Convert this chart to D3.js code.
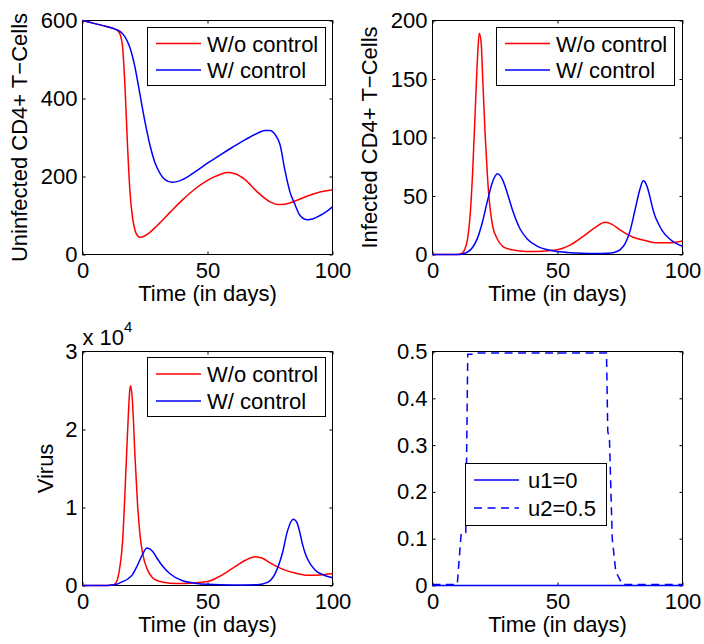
<!DOCTYPE html>
<html>
<head>
<meta charset="utf-8">
<script src="https://cdn.jsdelivr.net/npm/d3@7"></script>
<style>
  body { margin: 0; background: #fff; }
  svg { display: block; font-family: "Liberation Sans", Arial, Helvetica, sans-serif; }
</style>
</head>
<body>
<svg id="chart" width="704" height="644"></svg>
<script>
// ---- data ---------------------------------------------------------------
const X_TICKS = [0, 50, 100];
const X_LABEL = "Time (in days)";
const LABEL_NO = "W/o control";
const LABEL_CTRL = "W/ control";

// uninfected CD4+ T-cells
const UNINF_NO_T = [0, 5, 10, 13, 14, 15, 16, 17, 18, 19, 20, 21, 22, 23, 24, 26, 30, 35, 40, 45, 50, 55, 58, 61, 65, 70, 75, 78, 81, 85, 90, 95, 100];
const UNINF_NO   = [600, 592, 584, 578, 574, 565, 535, 430, 280, 160, 95, 62, 48, 44, 45, 52, 75, 108, 140, 168, 190, 205, 210, 207, 192, 160, 135, 128, 129, 137, 150, 160, 166];
const UNINF_CTRL_T = [0, 5, 10, 13, 15, 17, 19, 21, 23, 25, 27, 29, 31, 33, 36, 40, 45, 50, 55, 60, 65, 70, 73, 75, 77, 79, 81, 83, 85, 87, 90, 92, 95, 98, 100];
const UNINF_CTRL   = [600, 592, 584, 578, 572, 558, 530, 480, 410, 340, 280, 235, 208, 192, 185, 192, 212, 234, 255, 275, 294, 311, 318, 318, 308, 282, 215, 160, 128, 100, 89, 91, 100, 112, 122];
const UNINF_TICKS = [0, 200, 400, 600];

// infected CD4+ T-cells
const INF_NO_T = [0, 10, 11, 12, 13, 14, 15, 16, 17, 18, 18.7, 19.5, 20, 21, 22, 23, 24, 26, 28, 30, 35, 40, 45, 50, 55, 60, 65, 69, 72, 75, 80, 85, 90, 95, 100];
const INF_NO   = [0, 0, 0.5, 1.5, 5, 13, 32, 68, 118, 168, 189, 180, 155, 105, 66, 40, 25, 13, 7, 5, 3, 2.5, 3, 4, 8, 15, 23, 27.5, 25.5, 21, 15, 12, 10, 10, 11.5];
const INF_CTRL_T = [0, 10, 12, 14, 16, 18, 20, 22, 24, 26, 28, 30, 32, 35, 38, 42, 46, 50, 55, 60, 65, 70, 73, 75, 77, 79, 81, 83, 84.3, 85, 86, 87, 88, 89, 90, 92, 95, 100];
const INF_CTRL   = [0, 0, 0.5, 2, 6, 14, 28, 46, 62, 69, 64, 52, 38, 22, 13, 7, 4, 2.5, 1.5, 1, 0.8, 1, 2, 4, 9, 20, 38, 56, 63, 62, 57, 49, 40, 33, 28, 20, 13, 7];
const INF_TICKS = [0, 50, 100, 150, 200];

// virus
const VIR_NO_T = [0, 10, 12, 13, 14, 15, 16, 17, 18, 19, 19.3, 20, 21, 22, 23, 24, 26, 28, 30, 35, 40, 45, 50, 55, 60, 65, 69, 72, 75, 80, 85, 90, 95, 100];
const VIR_NO   = [0, 0, 50, 200, 800, 2500, 5500, 12000, 19500, 25300, 25600, 23500, 16500, 10500, 6500, 4200, 2000, 1000, 600, 300, 250, 350, 500, 1200, 2200, 3200, 3700, 3500, 2900, 2100, 1600, 1300, 1350, 1550];
const VIR_CTRL_T = [0, 10, 12, 14, 16, 18, 20, 22, 24, 25.8, 28, 30, 32, 35, 40, 45, 50, 60, 70, 74, 77, 80, 82, 84.3, 85, 86, 87, 88, 89, 90, 93, 96, 100];
const VIR_CTRL   = [0, 0, 50, 200, 500, 800, 1400, 2600, 4000, 4800, 4400, 3400, 2500, 1500, 600, 300, 150, 50, 100, 400, 1500, 4200, 7000, 8500, 8400, 7900, 6700, 5300, 4200, 3400, 2000, 1400, 1000];
const VIR_TICKS = [0, 10000, 20000, 30000];

// controls
const U1_T = [0, 100];
const U1   = [0, 0];
const U2_T = [0, 9.9, 11.5, 13.3, 14.1, 16.8, 17.5, 69.6, 70.1, 70.8, 71.9, 73.3, 75.9, 100];
const U2   = [0.002, 0.002, 0.113, 0.113, 0.494, 0.494, 0.497, 0.497, 0.33, 0.31, 0.10, 0.03, 0.002, 0.002];
const U_TICKS = [0, 0.1, 0.2, 0.3, 0.4, 0.5];

// ---- layout ---------------------------------------------------------------
const RED = "#ff0000", BLUE = "#0000ff";
const FONT = 22;

const PANELS = [
  {
    box: { x0: 82.5, y0: 20.5, x1: 332.5, y1: 254.5 },
    yDomain: [0, 600], yTicks: UNINF_TICKS, yFmt: d3.format("d"),
    yLabel: "Uninfected CD4+ T\u2212Cells", yLabelX: 27,
    series: [
      { t: UNINF_NO_T, v: UNINF_NO, color: RED, label: LABEL_NO },
      { t: UNINF_CTRL_T, v: UNINF_CTRL, color: BLUE, label: LABEL_CTRL },
    ],
    legend: { x: 147.5, y: 27.5, w: 178, h: 58, rowY: [43.5, 70], lx0: 156, lx1: 201, tx: 207 },
  },
  {
    box: { x0: 432.5, y0: 20.5, x1: 682.5, y1: 254.5 },
    yDomain: [0, 200], yTicks: INF_TICKS, yFmt: d3.format("d"),
    yLabel: "Infected CD4+ T\u2212Cells", yLabelX: 377,
    series: [
      { t: INF_NO_T, v: INF_NO, color: RED, label: LABEL_NO },
      { t: INF_CTRL_T, v: INF_CTRL, color: BLUE, label: LABEL_CTRL },
    ],
    legend: { x: 496.5, y: 27.5, w: 178, h: 58, rowY: [43.5, 70], lx0: 505, lx1: 550, tx: 556 },
  },
  {
    box: { x0: 82.5, y0: 351.5, x1: 332.5, y1: 585.5 },
    yDomain: [0, 30000], yTicks: VIR_TICKS, yFmt: (d) => d3.format("d")(d / 1e4),
    yLabel: "Virus", yLabelX: 53, exponent: "4",
    series: [
      { t: VIR_NO_T, v: VIR_NO, color: RED, label: LABEL_NO },
      { t: VIR_CTRL_T, v: VIR_CTRL, color: BLUE, label: LABEL_CTRL },
    ],
    legend: { x: 147.5, y: 357.5, w: 178, h: 59, rowY: [374, 401], lx0: 156, lx1: 201, tx: 207 },
  },
  {
    box: { x0: 432.5, y0: 351.5, x1: 682.5, y1: 585.5 },
    yDomain: [0, 0.5], yTicks: U_TICKS, yFmt: (d) => (d === 0 ? "0" : d3.format(".1f")(d)),
    yLabel: null,
    series: [
      { t: U1_T, v: U1, color: BLUE, label: "u1=0", linear: true },
      { t: U2_T, v: U2, color: BLUE, label: "u2=0.5", dash: "8,5.5", linear: true },
    ],
    legend: { x: 465.5, y: 463.5, w: 141, h: 62, rowY: [480, 508], lx0: 474, lx1: 519, tx: 528 },
  },
];

const svg = d3.select("#chart");
svg.append("rect").attr("width", 704).attr("height", 644).attr("fill", "#fff");

PANELS.forEach((p) => {
  const { x0, y0, x1, y1 } = p.box;
  const x = d3.scaleLinear().domain([0, 100]).range([x0, x1]);
  const y = d3.scaleLinear().domain(p.yDomain).range([y1, y0]);
  const g = svg.append("g");

  // axes box
  g.append("rect")
    .attr("x", x0).attr("y", y0).attr("width", x1 - x0).attr("height", y1 - y0)
    .attr("fill", "none").attr("stroke", "#000").attr("stroke-width", 1);

  // ticks point inward on all four sides, labels only bottom / left
  const styleAxis = (sel) => {
    sel.select(".domain").remove();
    sel.selectAll("line").attr("stroke", "#000");
    sel.selectAll("text").attr("fill", "#000").style("font-size", FONT + "px")
      .style("font-family", "\"Liberation Sans\", Arial, sans-serif");
  };
  g.append("g").attr("transform", `translate(0,${y1})`)
    .call(d3.axisBottom(x).tickValues(X_TICKS).tickSize(-3).tickSizeOuter(0).tickPadding(7.4).tickFormat(d3.format("d")))
    .call(styleAxis);
  g.append("g").attr("transform", `translate(0,${y0})`)
    .call(d3.axisTop(x).tickValues(X_TICKS).tickSize(-3).tickSizeOuter(0).tickFormat(""))
    .call(styleAxis);
  g.append("g").attr("transform", `translate(${x0},0)`)
    .call(d3.axisLeft(y).tickValues(p.yTicks).tickSize(-3).tickSizeOuter(0).tickPadding(5).tickFormat(p.yFmt))
    .call(styleAxis);
  g.append("g").attr("transform", `translate(${x1},0)`)
    .call(d3.axisRight(y).tickValues(p.yTicks).tickSize(-3).tickSizeOuter(0).tickFormat(""))
    .call(styleAxis);

  // axis titles
  g.append("text")
    .attr("x", (x0 + x1) / 2).attr("y", y1 + 46)
    .attr("text-anchor", "middle").style("font-size", FONT + "px")
    .text(X_LABEL);
  if (p.yLabel) {
    g.append("text")
      .attr("transform", `translate(${p.yLabelX},${(y0 + y1) / 2}) rotate(-90)`)
      .attr("text-anchor", "middle").style("font-size", FONT + "px")
      .text(p.yLabel);
  }
  if (p.exponent) {
    const e = g.append("text").attr("x", x0).attr("y", y0 - 7).style("font-size", FONT + "px");
    e.append("tspan").text("x 10");
    e.append("tspan").attr("dy", -13).style("font-size", "15px").text(p.exponent);
  }

  // curves
  p.series.forEach((s) => {
    const pts = s.t.map((t, i) => [t, s.v[i]]);
    const line = d3.line()
      .x((d) => x(d[0])).y((d) => y(d[1]))
      .curve(s.linear ? d3.curveLinear : d3.curveMonotoneX);
    g.append("path")
      .datum(pts)
      .attr("d", line)
      .attr("fill", "none")
      .attr("stroke", s.color)
      .attr("stroke-width", 1.5)
      .attr("stroke-dasharray", s.dash || null);
  });

  // legend
  const L = p.legend;
  const lg = g.append("g");
  lg.append("rect")
    .attr("x", L.x).attr("y", L.y).attr("width", L.w).attr("height", L.h)
    .attr("fill", "#fff").attr("stroke", "#000").attr("stroke-width", 1);
  p.series.forEach((s, i) => {
    lg.append("line")
      .attr("x1", L.lx0).attr("x2", L.lx1).attr("y1", L.rowY[i]).attr("y2", L.rowY[i])
      .attr("stroke", s.color).attr("stroke-width", 1.5)
      .attr("stroke-dasharray", s.dash || null);
    lg.append("text")
      .attr("x", L.tx).attr("y", L.rowY[i] + 8)
      .style("font-size", FONT + "px")
      .text(s.label);
  });
});
</script>
</body>
</html>
